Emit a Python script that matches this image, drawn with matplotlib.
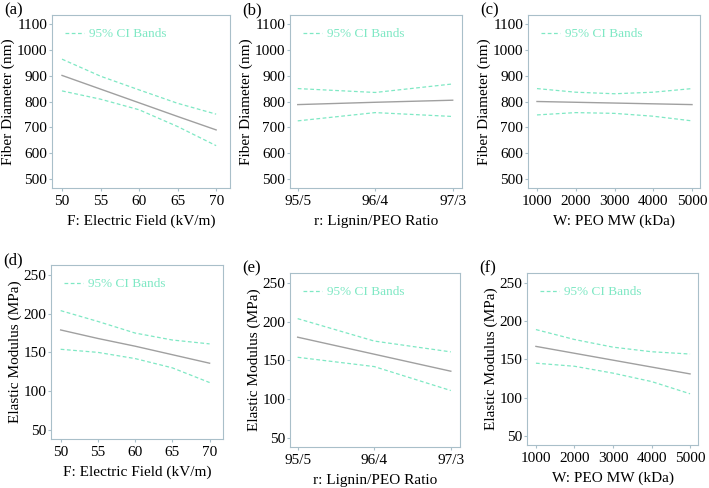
import numpy as np
import matplotlib
matplotlib.use("Agg")
import matplotlib.pyplot as plt

plt.rcParams['font.family'] = ['Liberation Serif', 'DejaVu Serif']
plt.rcParams['font.size'] = 11

# x positions for each factor
field_x = [50, 55, 60, 65, 70]
ratio_x = [0, 1, 2]
ratio_labels = ['95/5', '96/4', '97/3']
mw_x = [1000, 2000, 3000, 4000, 5000]

# fiber diameter (nm)
diam_field_mean = [901, 848, 795, 742, 690]
diam_field_up = [964, 898, 845, 793, 751]
diam_field_lo = [841, 809, 768, 703, 629]

diam_ratio_mean = [788, 797, 805]
diam_ratio_up = [850, 835, 868]
diam_ratio_lo = [725, 757, 742]

diam_mw_mean = [800, 797, 794, 791, 788]
diam_mw_up = [850, 836, 830, 836, 850]
diam_mw_lo = [748, 757, 754, 743, 725]

# elastic modulus (MPa)
mod_field_mean = [179, 168, 158, 147, 136]
mod_field_up = [204, 190, 175, 166, 161]
mod_field_lo = [154, 150, 142, 130, 111]

mod_ratio_mean = [180, 158, 136]
mod_ratio_up = [204, 175, 161]
mod_ratio_lo = [154, 142, 111]

mod_mw_mean = [167, 158, 149, 140, 131]
mod_mw_up = [189, 176, 166, 160, 157]
mod_mw_lo = [145, 141, 132, 121, 105]

ci_col = '#7fe8c4'
mean_col = '#a0a0a0'
spine_col = '#a9bfc9'

W, H = 709, 488
fig = plt.figure(figsize=(W / 100, H / 100), dpi=100)

def box(l, t, r, b):
    return [l / W, (H - b) / H, (r - l) / W, (b - t) / H]

panels = [
    ('(a)', box(52, 15, 230, 188), field_x, diam_field_mean, diam_field_up, diam_field_lo,
     'F: Electric Field (kV/m)', 'Fiber Diameter (nm)'),
    ('(b)', box(290, 15, 462, 188), ratio_x, diam_ratio_mean, diam_ratio_up, diam_ratio_lo,
     'r: Lignin/PEO Ratio', 'Fiber Diameter (nm)'),
    ('(c)', box(528, 15, 700, 188), mw_x, diam_mw_mean, diam_mw_up, diam_mw_lo,
     'W: PEO MW (kDa)', 'Fiber Diameter (nm)'),
    ('(d)', box(51, 265, 223, 439), field_x, mod_field_mean, mod_field_up, mod_field_lo,
     'F: Electric Field (kV/m)', 'Elastic Modulus (MPa)'),
    ('(e)', box(290, 273, 460, 447), ratio_x, mod_ratio_mean, mod_ratio_up, mod_ratio_lo,
     'r: Lignin/PEO Ratio', 'Elastic Modulus (MPa)'),
    ('(f)', box(527, 273, 698, 445), mw_x, mod_mw_mean, mod_mw_up, mod_mw_lo,
     'W: PEO MW (kDa)', 'Elastic Modulus (MPa)'),
]

for i, (tag, rect, x, m, up, lo, xl, yl) in enumerate(panels):
    ax = fig.add_axes(rect)
    ax.plot(x, m, color=mean_col, lw=1.0)
    ax.plot(x, up, color=ci_col, lw=0.9, ls=(0, (3, 2)), label='95% CI Bands')
    ax.plot(x, lo, color=ci_col, lw=0.9, ls=(0, (3, 2)))
    if i < 3:
        ax.set_ylim(465, 1135)
        ax.set_yticks(range(500, 1101, 100))
    else:
        ax.set_ylim(38, 263)
        ax.set_yticks(range(50, 251, 50))
    if x is field_x:
        ax.set_xlim(48.7, 71.8)
        ax.set_xticks(range(50, 71, 5))
    elif x is ratio_x:
        ax.set_xlim(-0.1, 2.12)
        ax.set_xticks(ratio_x)
        ax.set_xticklabels(ratio_labels)
    else:
        ax.set_xlim(768, 5206)
        ax.set_xticks(mw_x)
    for s in ax.spines.values():
        s.set_color(spine_col)
    ax.tick_params(direction='out', color=spine_col, length=2.5, labelsize=11, pad=1)
    ax.tick_params(axis='x', pad=2.8)
    ax.set_xlabel(xl, fontsize=11, labelpad=4.5)
    ax.set_ylabel(yl, fontsize=11, labelpad=1)
    leg = ax.legend(loc='upper left', frameon=False, fontsize=9.5, handlelength=1.4,
                    handletextpad=0.4, borderaxespad=0.6)
    for t in leg.get_texts():
        t.set_color(ci_col)
    fig.text(rect[0] - 0.068, rect[1] + rect[3] + 0.002, tag, fontsize=12)

fig.savefig('out.png', dpi=100)
